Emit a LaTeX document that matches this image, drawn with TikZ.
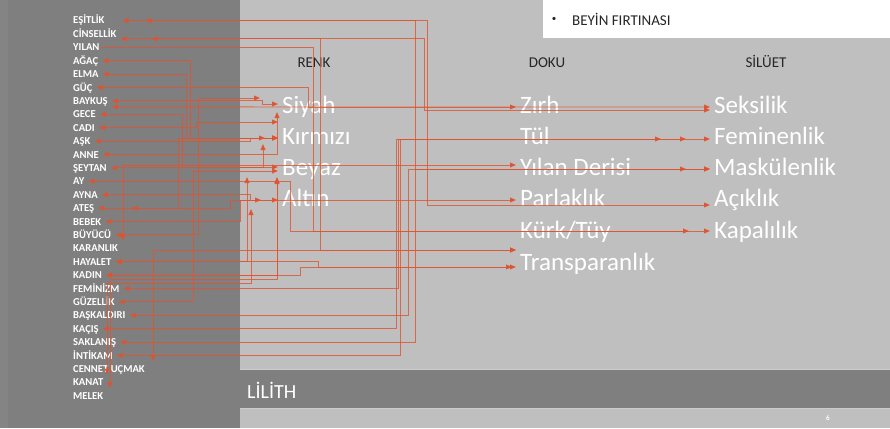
\documentclass[tikz,border=0pt]{standalone}
\usepackage{fontspec}
\setmainfont{Carlito}
\usetikzlibrary{arrows.meta}
\definecolor{dk}{HTML}{7F7F7F}
\definecolor{dkedge}{HTML}{848484}
\definecolor{lt}{HTML}{BFBFBF}
\definecolor{lr}{HTML}{E0532F}
\definecolor{hdc}{HTML}{262626}
\begin{document}
\begin{tikzpicture}[x=1pt,y=-1pt,
  lw/.style={anchor=west, text=white, font=\fontsize{10.6}{11}\selectfont\bfseries, inner sep=1pt, text height=7pt, text depth=0pt},
  bw/.style={anchor=base west, text=white, font=\fontsize{25}{28}\selectfont, inner sep=1pt, text height=18pt, text depth=6pt},
  hd/.style={anchor=base, text=hdc, font=\fontsize{15}{17}\selectfont, inner sep=0pt},
  cn/.style={draw=lr, line width=0.85pt, draw opacity=0.8, fill opacity=1, {Triangle[length=6pt,width=5pt]}-{Triangle[length=6pt,width=5pt]}, shorten <=3pt, shorten >=3pt},
  cnone/.style={draw=lr, line width=0.85pt, draw opacity=0.8, fill opacity=1, -{Triangle[length=6pt,width=5pt]}, shorten >=3pt}
]
\useasboundingbox (0,0) rectangle (890,428);
% backgrounds
\fill[lt] (0,0) rectangle (890,428);
\fill[dk] (0,0) rectangle (240,428);
\fill[dkedge] (0,0) rectangle (8,428);
\fill[white] (543,0) rectangle (890,38);
\fill[dk] (240,369) rectangle (890,409);
\draw[draw=lt!80!white, line width=0.8pt] (240,369.4) -- (890,369.4);
\draw[draw=lt!80!white, line width=0.8pt] (240,408.6) -- (890,408.6);

% header texts
\node[text=hdc, inner sep=0pt] (bul) at (554,19) {\fontsize{9}{10}\selectfont •};
\node[anchor=west, text=hdc, font=\fontsize{15}{17}\selectfont, inner sep=0pt] (beyin) at (572,19) {BEYİN FIRTINASI};
\node[hd] (renk) at (314,67) {RENK};
\node[hd] (doku) at (547,67) {DOKU};
\node[hd] (siluet) at (766,67) {SİLÜET};
\node[anchor=base west, text=white, font=\fontsize{20}{24}\selectfont, inner sep=0pt] (lilith) at (247,398) {LİLİTH};
\node[text=white, font=\fontsize{7}{8}\selectfont\bfseries, inner sep=0pt] (pg) at (828,418) {6};

% left words
\node[lw] (esitlik) at (72,20.5) {EŞİTLİK};
\node[lw] (cinsellik) at (72,33.9) {CİNSELLİK};
\node[lw] (yilan) at (72,47.3) {YILAN};
\node[lw] (agac) at (72,60.7) {AĞAÇ};
\node[lw] (elma) at (72,74.1) {ELMA};
\node[lw] (guc) at (72,87.5) {GÜÇ};
\node[lw] (baykus) at (72,100.9) {BAYKUŞ};
\node[lw] (gece) at (72,114.3) {GECE};
\node[lw] (cadi) at (72,127.7) {CADI};
\node[lw] (ask) at (72,141.1) {AŞK};
\node[lw] (anne) at (72,154.5) {ANNE};
\node[lw] (seytan) at (72,167.9) {ŞEYTAN};
\node[lw] (ay) at (72,181.3) {AY};
\node[lw] (ayna) at (72,194.7) {AYNA};
\node[lw] (ates) at (72,208.1) {ATEŞ};
\node[lw] (bebek) at (72,221.5) {BEBEK};
\node[lw] (buyucu) at (72,234.9) {BÜYÜCÜ};
\node[lw] (karanlik) at (72,248.3) {KARANLIK};
\node[lw] (hayalet) at (72,261.7) {HAYALET};
\node[lw] (kadin) at (72,275.1) {KADIN};
\node[lw] (feminizm) at (72,288.5) {FEMİNİZM};
\node[lw] (guzellik) at (72,301.9) {GÜZELLİK};
\node[lw] (baskaldiri) at (72,315.3) {BAŞKALDIRI};
\node[lw] (kacis) at (72,328.7) {KAÇIŞ};
\node[lw] (saklanis) at (72,342.1) {SAKLANIŞ};
\node[lw] (intikam) at (72,355.5) {İNTİKAM};
\node[lw] (cennet) at (72,368.9) {CENNET UÇMAK};
\node[lw] (kanat) at (72,382.3) {KANAT};
\node[lw] (melek) at (72,395.7) {MELEK};

% big words
\node[bw] (siyah) at (281,113) {Siyah};
\node[bw] (kirmizi) at (281,144) {Kırmızı};
\node[bw] (beyaz) at (281,175) {Beyaz};
\node[bw] (altin) at (281,206) {Altın};
\node[bw] (zirh) at (519,113) {Zırh};
\node[bw] (tul) at (519,144) {Tül};
\node[bw] (ylnd) at (519,175) {Yılan Derisi};
\node[bw] (parlak) at (519,206) {Parlaklık};
\node[bw] (kurk) at (519,238) {Kürk/Tüy};
\node[bw] (trans) at (519,270) {Transparanlık};
\node[bw] (seks) at (713,113) {Seksilik};
\node[bw] (femin) at (713,144) {Feminenlik};
\node[bw] (maskul) at (713,175) {Maskülenlik};
\node[bw] (acik) at (713,206) {Açıklık};
\node[bw] (kapal) at (713,238) {Kapalılık};

% ---- connectors to RENK ----
\draw[cn] (baykus.east) -- (baykus.east -| 262,0) |- ([yshift=3pt]siyah.west);
\draw[cn, shorten >=21pt] (buyucu.east) -- (buyucu.east -| 198,0) |- ([yshift=9pt]siyah.west);
\draw[cn] (anne.east) -| ([xshift=-4pt,yshift=-2pt]siyah.west);
\draw[cn] (agac.east) -- (agac.east -| 190,0) |- (kirmizi.west);
\draw[cn, shorten >=16pt] (elma.east) -- (elma.east -| 186,0) |- (kirmizi.west);
\draw[cn] (ask.east) -- (ask.east -| 250,0) |- (kirmizi.west);
\draw[cn] (seytan.east) -| ([xshift=-18pt,yshift=-3pt]kirmizi.west);
\draw[cn] (cadi.east) -- (cadi.east -| 196,0) |- ([yshift=16pt]kirmizi.west);
\draw[cn] (ates.east) -- (ates.east -| 178,0) |- (kirmizi.west);
\draw[cn] (gece.east) -- (gece.east -| 182,0) |- ([yshift=2pt]beyaz.west);
\draw[cn] (guzellik.east) -- (guzellik.east -| 193,0) |- ([yshift=-2pt]beyaz.west);
\draw[cn] (kadin.east) -| ([xshift=-4pt,yshift=-5pt]beyaz.west);
\draw[cn] (hayalet.east) -| ([xshift=-34pt,yshift=-5pt]beyaz.west);
\draw[cn, shorten <=36pt, shorten >=20pt] (ates.east) -- (ates.east -| 230,0) |- (altin.west);
\draw[cn] (bebek.east) -- (bebek.east -| 240,0) |- (altin.west);
\draw[cn] (melek.north east -| 110,0) -- (110,279) -| ([xshift=-4pt,yshift=-6pt]beyaz.west);
\draw[cn] (kanat.north east -| 107,0) -- (107,283) -| ([xshift=-30pt,yshift=-6pt]altin.west);

% ---- connectors to DOKU / SILUET ----
\draw[cnone] (yilan.east) -- (yilan.east -| 313,0) |- ([yshift=1pt]kapal.west);
\draw[cn, shorten >=24pt] (ay.east) -- (ay.east -| 290,0) |- ([yshift=1pt]kapal.west);
\draw[cn, shorten <=17pt] (esitlik.east) -- (esitlik.east -| 427,0) |- ([yshift=-5pt]acik.west);
\draw[cn, shorten <=40pt] (esitlik.east) -- (esitlik.east -| 415,0) |- (maskul.west);
\draw[cn] ([yshift=-5pt]cinsellik.east) -- ([yshift=-5pt]cinsellik.east -| 320,0) |- ([yshift=14pt]trans.west);
\draw[cn, shorten <=34pt] ([yshift=-5pt]cinsellik.east) -- ([yshift=-5pt]cinsellik.east -| 424,0) |- ([yshift=-3pt]seks.west);
\draw[cn] ([yshift=-6pt]baykus.east) -- (seks.west);
\draw[cn] (guc.east) -- (guc.east -| 308,0) |- (zirh.west);
\draw[cn] (ayna.east) -- (ayna.east -| 250,0) |- (parlak.west);
\draw[cn] (karanlik.north east -| 123,0) |- ([yshift=4pt]ylnd.west);
\draw[cn] (kadin.east) -- (kadin.east -| 300,0) |- ([yshift=-3pt]trans.west);
\draw[cn, shorten >=7pt] (hayalet.east) -- (hayalet.east -| 318,0) |- ([yshift=-3pt]trans.west);
\draw[cn] (cennet.north east -| 153,0) |- ([yshift=14pt]trans.west);
\draw[cn, shorten >=52pt] (feminizm.east) -- (feminizm.east -| 398,0) |- ([yshift=-1pt]femin.west);
\draw[cn, shorten >=27pt] (kacis.east) -- (kacis.east -| 396,0) |- ([yshift=-1pt]femin.west);
\draw[cn] (intikam.east) -- (intikam.east -| 400,0) |- ([yshift=-1pt]femin.west);
\draw[cn, shorten >=27pt] (baskaldiri.east) -- (baskaldiri.east -| 408,0) |- (maskul.west);
\draw[cn] (saklanis.east) -- (saklanis.east -| 415,0) |- (maskul.west);
\end{tikzpicture}
\end{document}
